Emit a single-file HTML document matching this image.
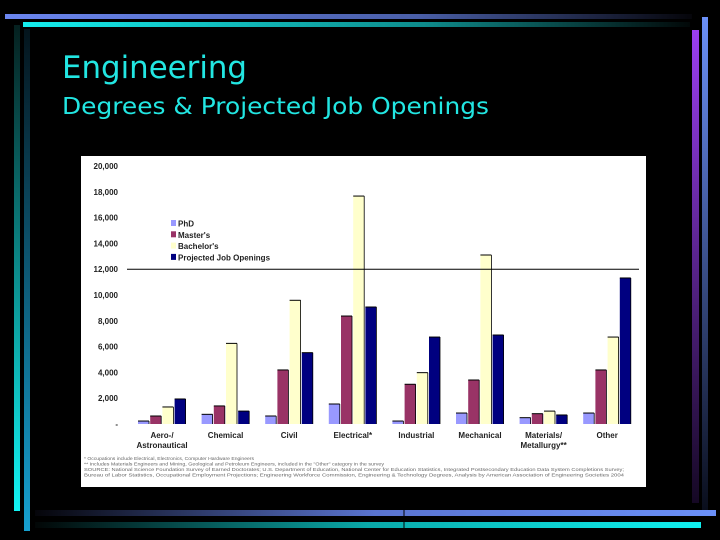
<!DOCTYPE html>
<html><head><meta charset="utf-8"><style>
html,body{margin:0;padding:0;background:#000;width:720px;height:540px;overflow:hidden}
svg{display:block}
</style></head><body>
<svg width="720" height="540" viewBox="0 0 720 540" xmlns="http://www.w3.org/2000/svg">
<defs>
<linearGradient id="gTop" x1="0" x2="1"><stop offset="0" stop-color="#6b86f0"/><stop offset="0.6" stop-color="#4a5fa8"/><stop offset="1" stop-color="#05050a"/></linearGradient>
<linearGradient id="gTop2" x1="0" x2="1"><stop offset="0" stop-color="#14eeee"/><stop offset="0.6" stop-color="#0e8c8c"/><stop offset="1" stop-color="#020808"/></linearGradient>
<linearGradient id="gBot" x1="0" x2="1"><stop offset="0" stop-color="#05050a"/><stop offset="0.5" stop-color="#5a74d0"/><stop offset="1" stop-color="#6b90f8"/></linearGradient>
<linearGradient id="gBot2" x1="0" x2="1"><stop offset="0" stop-color="#020606"/><stop offset="0.5" stop-color="#0aa8a8"/><stop offset="1" stop-color="#10f0f0"/></linearGradient>
<linearGradient id="gL1" x1="0" y1="0" x2="0" y2="1"><stop offset="0" stop-color="#05201f"/><stop offset="1" stop-color="#12f4f4"/></linearGradient>
<linearGradient id="gL2" x1="0" y1="0" x2="0" y2="1"><stop offset="0" stop-color="#04141c"/><stop offset="1" stop-color="#16a0d0"/></linearGradient>
<linearGradient id="gR1" x1="0" y1="0" x2="0" y2="1"><stop offset="0" stop-color="#9a3ef0"/><stop offset="1" stop-color="#150824"/></linearGradient>
<linearGradient id="gR2" x1="0" y1="0" x2="0" y2="1"><stop offset="0" stop-color="#6b90f8"/><stop offset="1" stop-color="#0a0e1c"/></linearGradient>
</defs>
<rect x="5" y="14" width="687" height="5" fill="url(#gTop)"/>
<rect x="23" y="22" width="667" height="5" fill="url(#gTop2)"/>
<rect x="14" y="25" width="6" height="486" fill="url(#gL1)"/>
<rect x="24" y="29" width="6" height="502" fill="url(#gL2)"/>
<rect x="692" y="30" width="7" height="473" fill="url(#gR1)"/>
<rect x="702" y="17" width="6" height="493" fill="url(#gR2)"/>
<rect x="35" y="510" width="681" height="6" fill="url(#gBot)"/>
<rect x="35" y="522" width="666" height="6" fill="url(#gBot2)"/>
<line x1="404" y1="508" x2="404" y2="530" stroke="#000" stroke-width="1"/>
<text x="62" y="78" fill="#22e6e2" font-family="'DejaVu Sans','Liberation Sans',sans-serif" font-size="31" textLength="185" lengthAdjust="spacingAndGlyphs">Engineering</text>
<text x="62" y="114" fill="#22e6e2" font-family="'DejaVu Sans','Liberation Sans',sans-serif" font-size="23" textLength="427" lengthAdjust="spacingAndGlyphs">Degrees &amp; Projected Job Openings</text>
<rect x="81" y="156" width="565" height="331" fill="#fff"/>
<g id="chart" font-family="'Liberation Sans',sans-serif"></g>
</svg>
<script>
const categories=[["Aero-/","Astronautical"],["Chemical"],["Civil"],["Electrical*"],["Industrial"],["Mechanical"],["Materials/","Metallurgy**"],["Other"]];
const seriesNames=["PhD","Master's","Bachelor's","Projected Job Openings"];
const phd=[230,750,620,1550,230,850,490,850];
const masters=[620,1400,4190,8370,3080,3410,800,4190];
const bachelors=[1320,6250,9590,17670,3980,13100,1000,6740];
const openings=[1940,1000,5530,9070,6740,6900,700,11320];
const yTicks=[0,2000,4000,6000,8000,10000,12000,14000,16000,18000,20000];
const yTickLabels=["-","2,000","4,000","6,000","8,000","10,000","12,000","14,000","16,000","18,000","20,000"];
const refLine=12000;
const colors=["#9999ff","#993366","#ffffcc","#000080"];
const NS="http://www.w3.org/2000/svg";
const g=document.getElementById('chart');
const y0=424,yTop=166,yMax=20000;
function yS(v){return y0-(v/yMax)*(y0-yTop);}
const cx0=162,step=63.6;
function xC(i){return cx0+i*step;}
function mk(tag,attrs){const e=document.createElementNS(NS,tag);for(const k in attrs)e.setAttribute(k,attrs[k]);g.appendChild(e);return e;}
yTicks.forEach((t,i)=>{
  const e=mk('text',{x:118,y:yS(t)+3,'text-anchor':'end','font-size':8,'font-weight':'bold',fill:'#222'});
  
  
  e.textContent=yTickLabels[i];
});
const series=[phd,masters,bachelors,openings];
const bw=11,gap=1.2;
series.forEach((s,si)=>{
  s.forEach((v,ci)=>{
    const x=xC(ci)-24+si*(bw+gap);
    const r=mk('rect',{x:x,y:yS(v),width:bw,height:y0-yS(v),fill:colors[si]});
    
    
    mk('line',{x1:x,y1:yS(v),x2:x+bw,y2:yS(v),stroke:'#000','stroke-width':1});
    mk('line',{x1:x+bw,y1:yS(v),x2:x+bw,y2:y0,stroke:'#000','stroke-width':0.8});
  });
});
const rl=mk('line',{x1:127,y1:yS(refLine),x2:639,y2:yS(refLine),stroke:'#000','stroke-width':1});


categories.forEach((c,i)=>{
  c.forEach((ln,li)=>{
    const e=mk('text',{x:xC(i),y:438+li*10,'text-anchor':'middle','font-size':8,'font-weight':'bold',fill:'#222'});
    
    
    e.textContent=ln;
  });
});
seriesNames.forEach((n,i)=>{
  const yy=224+i*11.3;
  const sw=mk('rect',{x:171,y:yy-4,width:5,height:6,fill:colors[i]});
  
  
  const t=mk('text',{x:178,y:yy+2.5,'font-size':8,'font-weight':'bold',fill:'#222'});
  
  
  t.textContent=n;
});
const notes=["* Occupations include Electrical, Electronics, Computer Hardware Engineers",
"** Includes Materials Engineers and Mining, Geological and Petroleum Engineers, included in the \"Other\" category in the survey",
"SOURCE: National Science Foundation Survey of Earned Doctorates; U.S. Department of Education, National Center for Education Statistics, Integrated Postsecondary Education Data System Completions Survey;",
"Bureau of Labor Statistics, Occupational Employment Projections; Engineering Workforce Commission, Engineering & Technology Degrees, Analysis by American Association of Engineering Societies 2004"];
notes.forEach((n,i)=>{
  const t=mk('text',{x:84,y:460+i*5.5,'font-size':4.6,fill:'#666',textLength:i<2?(i==0?170:300):540,lengthAdjust:'spacingAndGlyphs'});
  
  
  t.textContent=n;
});
</script>
</body></html>
